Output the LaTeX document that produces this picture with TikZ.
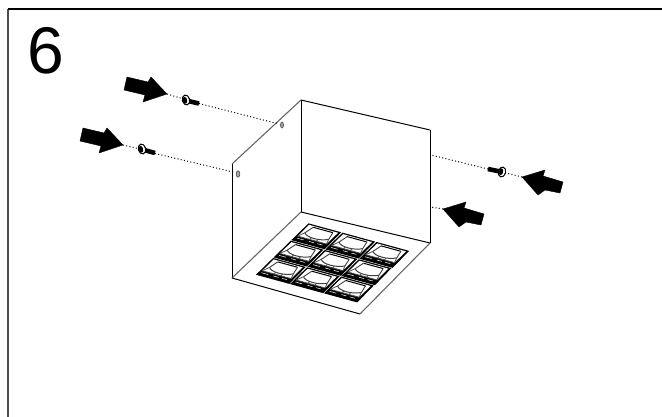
\documentclass[tikz,border=0pt]{standalone}
\usepackage{fontspec}
\setmainfont{Liberation Sans}
\tikzset{
  x=1pt,y=-1pt,
  edge/.style={black,line width=1pt},
  softedge/.style={black!60,line width=1.1pt},
  dots/.style={black,line width=1pt,dash pattern=on 1pt off 2.3pt},
  bigarrow/.style={fill=black,draw=black,line width=0.4pt,line join=round},
  shank/.style={black,line width=4.6pt},
  hole/.style={draw=black!65,fill=black!35,line width=0.7pt},
}
\newcommand{\leftarrowshape}[1]{\path[bigarrow,shift={(#1)}] (0,0) -- (-24,8) -- (-22,1) -- (-43,-4) -- (-40,-17) -- (-19,-12) -- (-16,-17) -- cycle;}
\newcommand{\rightarrowshape}[1]{\path[bigarrow,shift={(#1)}] (0,0) -- (23,-7) -- (21,-1) -- (41,5) -- (38,16) -- (23,13) -- (16,18) -- cycle;}
\newcommand{\washer}[2]{\draw[black,line width=1.1pt,fill=white,shift={(#1)},rotate=#2] (0,0) ellipse (3.6 and 5);
  \fill[black,shift={(#1)},rotate=#2] (-1,0) ellipse (2.2 and 3.4);
  \draw[white,line width=0.7pt,shift={(#1)},rotate=#2] (1.2,-3.3) arc (-70:70:1.2 and 3.4);}
\begin{document}
\begin{tikzpicture}
\useasboundingbox (0,0) rectangle (662,417);
\fill[white] (0,0) rectangle (662,417);
% frame
\coordinate (frameB) at (8,417);
\coordinate (frameC) at (8,9);
\coordinate (frameE) at (662,9);
\draw[black!70,line width=1.2pt] (frameB) -- (frameC);
\draw[black,line width=1.2pt] (frameC) -- (frameE);
\node[anchor=base west,inner sep=0pt,font=\fontsize{66}{66}\selectfont] (num) at (27.5,73.5) {6};
% box
\coordinate (tl) at (232,164);
\coordinate (tb) at (301,100);
\coordinate (tr) at (430,130);
\coordinate (fl) at (232,278);
\coordinate (fb) at (301,212);
\coordinate (fr) at (430,243);
\coordinate (ff) at (360,314);
\draw[edge] (fl) -- (tl);
\draw[softedge] (tl) -- (tb);
\draw[edge] (tb) -- (tr);
\draw[edge] (tb) -- (fb);
\draw[edge] (tr) -- (fr);
\draw[edge] (fb) -- (fr);
\draw[softedge] (fl) -- (fb);
\draw[edge] (fl) -- (ff);
\draw[softedge] (ff) -- (fr);
% lamp cells
\foreach \i in {0,1,2}{\foreach \j in {0,1,2}{
\begin{scope}[shift={(308pt+\i*34pt-\j*17.7pt,-223pt-\i*9.3pt-\j*17.3pt)},x={(34pt,-9.3pt)},y={(-17.7pt,-17.3pt)}]
  \fill[black] (0.02,0.01) -- (0.98,0.01) -- (1.0,0.98) -- (0.02,0.98) -- cycle;
  \fill[white] (0.07,0.07) -- (0.92,0.07) -- (0.92,0.72) -- (0.07,0.72) -- cycle;
  \draw[black!70,line width=0.8pt] (0.07,0.72) -- (0.92,0.72);
  \draw[black,line width=1pt] (0.22,0.13) -- (0.80,0.13);
  \draw[black!75,line width=0.9pt] (0.22,0.13) -- (0.16,0.48);
  \draw[black!75,line width=0.9pt] (0.80,0.13) -- (0.86,0.48);
  \draw[black!75,line width=1pt] (0.16,0.48) .. controls (0.30,0.68) and (0.70,0.68) .. (0.86,0.48);
  \draw[black!70,line width=0.8pt] (0.16,0.48) -- (0.07,0.72) (0.86,0.48) -- (0.92,0.72) (0.42,0.62) -- (0.42,0.72) (0.62,0.62) -- (0.62,0.72);
  \draw[white,line width=0.5pt] (0.10,0.82) -- (0.30,0.82) (0.45,0.82) -- (0.60,0.82) (0.70,0.82) -- (0.85,0.82);
\end{scope}
}}
% holes
\coordinate (h1) at (282,125);
\coordinate (h2) at (238,174);
\path[hole] (h1) ellipse (1.5 and 3);
\path[hole] (h2) ellipse (1.8 and 3.2);
% arrows
\leftarrowshape{167,94}
\leftarrowshape{123,145}
\rightarrowshape{522,177}
\rightarrowshape{443,209}
% dotted guides
\coordinate (a1) at (167,94);
\coordinate (s1a) at (182,98.5);
\coordinate (s1b) at (199,103.5);
\coordinate (e1) at (277,123.5);
\coordinate (a2) at (123,145);
\coordinate (s2a) at (138,148.5);
\coordinate (s2b) at (155,153.5);
\coordinate (e2) at (233,172);
\coordinate (a3) at (522,177);
\coordinate (s3a) at (506,173);
\coordinate (s3b) at (488,169);
\coordinate (e3) at (431,155);
\coordinate (a4) at (443,209);
\coordinate (e4) at (431,207);
\draw[dots] (a1) -- (s1a);
\draw[dots] (s1b) -- (e1);
\draw[dots] (a2) -- (s2a);
\draw[dots] (s2b) -- (e2);
\draw[dots] (a3) -- (s3a);
\draw[dots] (s3b) -- (e3);
\draw[dots] (a4) -- (e4);
% screws
\draw[shank] (188,101) -- (199,103.5);
\draw[shank] (144,150) -- (155,153);
\draw[shank] (500,171.5) -- (488,169);
\washer{186,100}{15}
\washer{142,149}{15}
\washer{502,172}{-15}
\end{tikzpicture}
\end{document}
